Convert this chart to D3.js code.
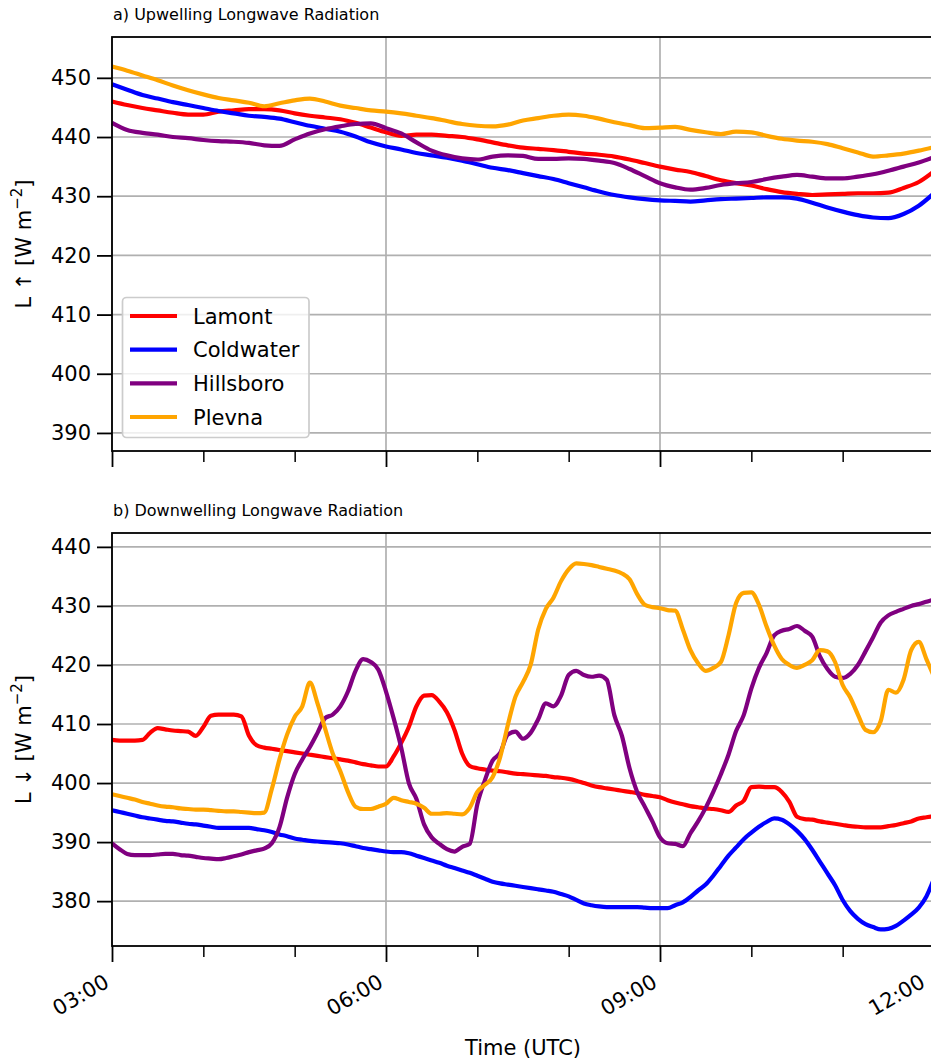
<!DOCTYPE html>
<html>
<head>
<meta charset="utf-8">
<script src="https://cdn.jsdelivr.net/npm/d3@7"></script>
<style>
  body { margin: 0; background: #fff; }
  svg { display: block; }
  text { font-family: "DejaVu Sans", sans-serif; fill: #000; }
</style>
</head>
<body>
<svg id="chart" width="931" height="1063"></svg>
<script>
// ---- Data ---------------------------------------------------------------
// Time axis: minutes after 03:00 UTC, from 03:00 to 12:00
const timeStart = 0, timeEnd = 540;
const majorTicks = [0, 180, 360, 540];
const tickLabels = ["03:00", "06:00", "09:00", "12:00"];
const minorTicks = [60, 120, 240, 300, 420, 480];

const stations = ["Lamont", "Coldwater", "Hillsboro", "Plevna"];
const colors = ["#ff0000", "#0000ff", "#800080", "#ffa500"];

// (a) upwelling longwave, sampled every 10 minutes (W m-2)
const stepUp = 10;
const upLamont = [446.0,445.4,444.9,444.5,444.1,443.8,443.8,444.3,444.5,444.7,444.7,444.5,444.0,443.6,443.3,443.0,442.4,441.6,440.8,440.2,440.4,440.4,440.2,440.0,439.6,439.1,438.6,438.2,438.0,437.8,437.5,437.2,437.0,436.7,436.2,435.6,435.0,434.5,434.1,433.4,432.7,432.2,431.8,431.2,430.7,430.4,430.2,430.3,430.4,430.5,430.5,430.6,431.4,432.4,434.2];
const upColdwater = [448.9,448.0,447.1,446.5,445.9,445.4,444.9,444.4,444.0,443.6,443.4,443.1,442.5,441.9,441.4,440.9,440.1,439.1,438.4,437.9,437.3,436.9,436.5,436.0,435.4,434.8,434.4,433.9,433.4,432.9,432.2,431.5,430.8,430.2,429.8,429.5,429.3,429.2,429.1,429.3,429.5,429.6,429.7,429.8,429.8,429.6,428.9,428.1,427.4,426.8,426.4,426.3,427.0,428.4,430.5];
const upHillsboro = [442.4,441.2,440.7,440.4,440.0,439.8,439.5,439.3,439.2,439.0,438.6,438.5,439.6,440.6,441.3,441.8,442.2,442.3,441.5,440.6,439.1,437.7,436.9,436.4,436.2,436.7,436.9,436.8,436.3,436.3,436.4,436.3,436.0,435.6,434.6,433.4,432.2,431.5,431.1,431.4,431.9,432.2,432.4,432.9,433.3,433.6,433.3,433.0,433.0,433.3,433.7,434.3,435.0,435.7,436.6];
const upPlevna = [451.9,451.2,450.4,449.6,448.7,447.9,447.2,446.6,446.2,445.8,445.2,445.7,446.2,446.5,446.0,445.3,444.9,444.5,444.3,444.0,443.6,443.2,442.7,442.2,441.9,441.8,442.1,442.8,443.2,443.6,443.8,443.6,443.1,442.5,442.0,441.5,441.6,441.7,441.2,440.8,440.5,440.9,440.8,440.2,439.7,439.4,439.2,438.8,438.1,437.4,436.7,436.9,437.2,437.7,438.3];

// (b) downwelling longwave, sampled every 5 minutes (W m-2)
const stepDown = 5;
const downLamont = [407.3,407.2,407.2,407.2,407.3,408.5,409.3,409.1,408.9,408.8,408.7,408.0,409.5,411.4,411.6,411.6,411.6,411.3,408.0,406.4,406.0,405.8,405.6,405.4,405.2,405.0,404.8,404.6,404.4,404.2,404.0,403.8,403.5,403.2,403.0,402.8,402.8,404.5,406.8,409.5,413.0,414.8,414.9,413.8,412.0,409.0,405.0,402.9,402.5,402.3,402.1,402.0,401.8,401.6,401.5,401.4,401.3,401.2,401.0,400.9,400.7,400.4,400.0,399.6,399.3,399.1,398.9,398.7,398.5,398.3,398.0,397.8,397.6,397.1,396.7,396.4,396.1,395.9,395.7,395.6,395.4,395.1,396.2,397.0,399.3,399.4,399.3,399.3,398.5,396.8,394.3,393.9,393.8,393.5,393.3,393.1,392.9,392.7,392.6,392.5,392.5,392.5,392.7,392.9,393.2,393.5,394.0,394.2,394.4];
const downColdwater = [395.4,395.1,394.8,394.5,394.2,394.0,393.8,393.6,393.5,393.3,393.1,393.0,392.8,392.6,392.4,392.4,392.4,392.4,392.4,392.2,392.0,391.7,391.3,391.0,390.6,390.4,390.2,390.1,390.0,389.9,389.8,389.6,389.3,389.0,388.8,388.6,388.4,388.3,388.3,388.1,387.7,387.3,386.9,386.5,386.0,385.6,385.2,384.8,384.3,383.8,383.3,383.0,382.8,382.6,382.4,382.2,382.0,381.8,381.6,381.2,380.8,380.2,379.6,379.3,379.1,379.0,379.0,379.0,379.0,379.0,378.9,378.8,378.8,378.8,379.3,379.8,380.7,381.8,382.8,384.3,386.0,387.7,389.1,390.5,391.6,392.6,393.4,394.0,393.8,393.0,391.9,390.5,388.7,386.7,384.7,382.7,380.2,378.3,377.0,376.1,375.6,375.2,375.3,375.8,376.7,377.7,378.9,380.8,383.8];
const downHillsboro = [389.8,388.8,388.0,387.8,387.8,387.8,387.9,388.0,388.0,387.8,387.7,387.5,387.3,387.2,387.1,387.3,387.6,387.9,388.3,388.6,388.9,389.8,392.5,397.5,401.5,404.0,406.1,408.5,411.0,411.6,413.0,415.5,419.0,421.0,420.5,419.2,415.5,411.0,406.0,400.0,397.3,393.0,390.8,389.7,388.8,388.4,389.2,389.7,396.4,400.5,403.8,405.1,408.2,408.7,407.5,408.5,410.8,413.5,413.0,414.8,418.3,419.0,418.3,418.0,418.2,417.5,411.5,408.0,402.5,398.5,396.0,393.5,390.8,389.8,389.7,389.3,391.5,393.5,395.8,398.5,401.5,404.8,408.8,411.5,416.0,419.5,422.0,425.0,425.8,426.1,426.6,425.8,424.8,421.5,419.3,418.0,417.8,418.5,420.0,422.3,424.7,427.2,428.4,429.0,429.5,430.0,430.3,430.7,431.1];
const downPlevna = [398.1,397.8,397.5,397.2,396.8,396.5,396.2,396.0,395.9,395.7,395.6,395.5,395.5,395.4,395.3,395.2,395.2,395.1,395.0,394.9,395.0,399.0,404.0,408.2,411.2,413.0,417.0,413.5,409.2,405.0,402.0,398.5,396.0,395.6,395.6,396.0,396.5,397.5,397.1,396.8,396.5,395.8,394.8,394.8,394.9,394.8,394.7,395.8,398.5,399.7,401.0,404.4,409.8,414.6,417.1,420.0,426.0,429.5,431.4,434.2,436.2,437.2,437.1,436.9,436.6,436.3,436.0,435.5,434.5,432.0,430.2,429.8,429.6,429.3,429.2,426.0,422.5,420.3,419.0,419.5,420.5,425.0,430.5,432.2,432.3,430.2,426.5,423.3,421.0,420.0,419.5,420.0,420.8,422.5,422.3,420.5,416.6,414.5,411.6,409.0,408.6,410.5,415.8,415.3,417.5,422.5,423.9,421.0,418.0];

const upTicks = [390, 400, 410, 420, 430, 440, 450];
const downTicks = [380, 390, 400, 410, 420, 430, 440];

// ---- Layout -------------------------------------------------------------
const svg = d3.select("#chart");
const figWidth = +svg.attr("width");
const plotLeft = 112, plotRight = 934;
const x = d3.scaleLinear().domain([timeStart, timeEnd]).range([plotLeft, plotRight]);

const panels = [
  {
    title: "a) Upwelling Longwave Radiation", titleY: 20,
    top: 37, bottom: 451, domain: [386.95, 456.9], ticks: upTicks,
    arrow: "\u2191", step: stepUp,
    series: [upLamont, upColdwater, upHillsboro, upPlevna],
    xLabels: false, legend: true
  },
  {
    title: "b) Downwelling Longwave Radiation", titleY: 516,
    top: 533, bottom: 946, domain: [372.4, 442.35], ticks: downTicks,
    arrow: "\u2193", step: stepDown,
    series: [downLamont, downColdwater, downHillsboro, downPlevna],
    xLabels: true, legend: false
  }
];

const gridColor = "#b0b0b0";

panels.forEach(p => {
  const y = d3.scaleLinear().domain(p.domain).range([p.bottom, p.top]);
  const g = svg.append("g");

  // grid
  g.append("g").selectAll("line").data(p.ticks).join("line")
    .attr("x1", plotLeft).attr("x2", plotRight)
    .attr("y1", d => y(d)).attr("y2", d => y(d))
    .attr("stroke", gridColor).attr("stroke-width", 1.7);
  g.append("g").selectAll("line").data(majorTicks).join("line")
    .attr("x1", d => x(d)).attr("x2", d => x(d))
    .attr("y1", p.top).attr("y2", p.bottom)
    .attr("stroke", gridColor).attr("stroke-width", 1.7);

  // series lines
  const line = d3.line()
    .x((d, i) => x(i * p.step))
    .y(d => y(d))
    .curve(d3.curveMonotoneX);
  g.append("g").selectAll("path").data(p.series).join("path")
    .attr("d", line)
    .attr("fill", "none")
    .attr("stroke", (d, i) => colors[i])
    .attr("stroke-width", 4.2)
    .attr("stroke-linejoin", "round")
    .attr("stroke-linecap", "butt");

  // frame
  g.append("rect")
    .attr("x", plotLeft).attr("y", p.top)
    .attr("width", plotRight - plotLeft).attr("height", p.bottom - p.top)
    .attr("fill", "none").attr("stroke", "#000").attr("stroke-width", 1.8);

  // y axis
  const yAxis = g.append("g")
    .attr("transform", `translate(${plotLeft},0)`)
    .call(d3.axisLeft(y).tickValues(p.ticks).tickSize(15).tickPadding(6).tickFormat(d3.format("d")));
  yAxis.select(".domain").remove();
  yAxis.selectAll(".tick line").attr("stroke", "#000").attr("stroke-width", 1.8);
  yAxis.selectAll(".tick text").style("font-size", "21px").style("font-family", "DejaVu Sans");

  // x axis: major + minor ticks
  const xMajor = g.append("g")
    .attr("transform", `translate(0,${p.bottom})`)
    .call(d3.axisBottom(x).tickValues(majorTicks).tickSize(16)
      .tickFormat((d, i) => tickLabels[i]));
  xMajor.select(".domain").remove();
  xMajor.selectAll(".tick line").attr("stroke", "#000").attr("stroke-width", 1.8);
  if (p.xLabels) {
    xMajor.selectAll(".tick text")
      .style("font-size", "21px").style("font-family", "DejaVu Sans")
      .attr("text-anchor", "end")
      .attr("dy", null)
      .attr("y", null)
      // keep the last label inside the figure's right edge
      .attr("transform", d => {
        const shift = Math.min(0, figWidth - 3 - x(d));
        return `translate(${-2 + shift},40) rotate(-30)`;
      });
  } else {
    xMajor.selectAll(".tick text").remove();
  }
  const xMinor = g.append("g")
    .attr("transform", `translate(0,${p.bottom})`)
    .call(d3.axisBottom(x).tickValues(minorTicks).tickSize(11).tickFormat(""));
  xMinor.select(".domain").remove();
  xMinor.selectAll(".tick line").attr("stroke", "#000").attr("stroke-width", 1.5);

  // panel title
  svg.append("text")
    .attr("x", plotLeft + 1).attr("y", p.titleY)
    .style("font-size", "16px")
    .text(p.title);

  // y label
  const ylab = svg.append("text")
    .attr("transform", `translate(31,${(p.top + p.bottom) / 2}) rotate(-90)`)
    .attr("text-anchor", "middle")
    .style("font-size", "21px");
  ylab.append("tspan").text(`L ${p.arrow} [W m`);
  ylab.append("tspan").attr("dy", -9).style("font-size", "15px").text("\u22122");
  ylab.append("tspan").attr("dy", 9).text("]");

  // legend
  if (p.legend) {
    const lg = svg.append("g");
    lg.append("rect")
      .attr("x", 122.5).attr("y", 297.5).attr("width", 186.5).attr("height", 140)
      .attr("rx", 4).attr("ry", 4)
      .attr("fill", "#fff").attr("fill-opacity", 0.8)
      .attr("stroke", "#cccccc").attr("stroke-width", 1.7);
    const rowY = d3.scalePoint().domain(stations).range([316, 417]);
    stations.forEach((s, i) => {
      lg.append("line")
        .attr("x1", 130).attr("x2", 177)
        .attr("y1", rowY(s)).attr("y2", rowY(s))
        .attr("stroke", colors[i]).attr("stroke-width", 4.2);
      lg.append("text")
        .attr("x", 193).attr("y", rowY(s)).attr("dy", "0.36em")
        .style("font-size", "21px")
        .text(s);
    });
  }
});

// x axis title
svg.append("text")
  .attr("x", 523).attr("y", 1055)
  .attr("text-anchor", "middle")
  .style("font-size", "21px")
  .text("Time (UTC)");
</script>
</body>
</html>
